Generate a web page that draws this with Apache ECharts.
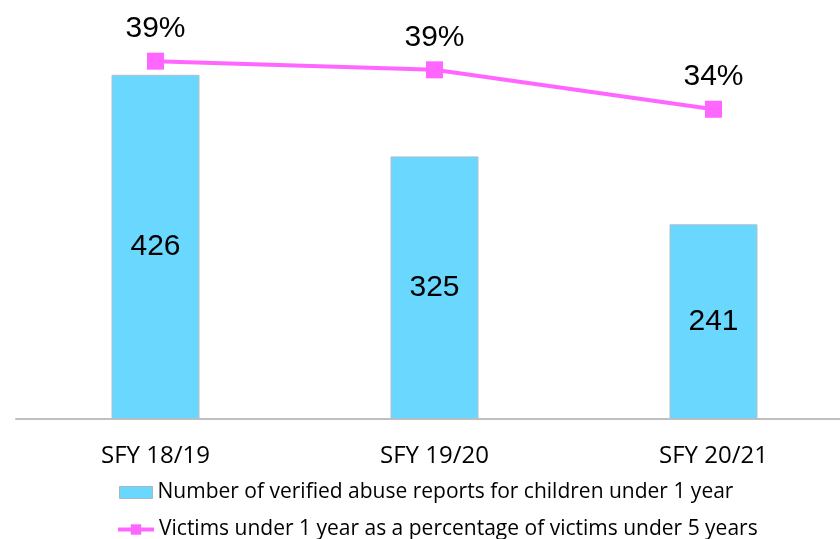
<!DOCTYPE html>
<html><head><meta charset="utf-8">
<script src="https://cdn.jsdelivr.net/npm/echarts@6/dist/echarts.min.js"></script>
<style>html,body{margin:0;padding:0;background:#fff;overflow:hidden}#c{width:860px;height:539px}</style>
</head><body><div id="c"></div>
<script>
var categories = ['SFY 18/19', 'SFY 19/20', 'SFY 20/21'];
var reports = [426, 325, 241];
var percentages = [0.394, 0.385, 0.344];
var barName = 'Number of verified abuse reports for children under 1 year';
var lineName = 'Victims under 1 year as a percentage of victims under 5 years';

var labelFont = '"Open Sans"';
var chart = echarts.init(document.getElementById('c'));
var legendText = { fontFamily: labelFont, fontSize: 21, color: '#000' };
chart.setOption({
  animation: false,
  backgroundColor: '#ffffff',
  grid: { left: 16, top: 15, width: 837, bottom: 120, containLabel: false },
  legend: [
    { left: 114, top: 477, itemWidth: 33, itemHeight: 12, itemGap: 4, textStyle: legendText,
      itemStyle: { borderColor: '#a8b8c0', borderWidth: 1 },
      data: [{ name: barName, icon: 'rect' }] },
    { left: 111, top: 514, itemWidth: 36, itemHeight: 13, itemGap: 4, textStyle: legendText,
      lineStyle: { width: 4 },
      data: [{ name: lineName }] }
  ],
  xAxis: {
    type: 'category', data: categories,
    axisLine: { lineStyle: { color: '#bfbfbf', width: 2 } },
    axisTick: { show: false },
    axisLabel: { color: '#000', fontFamily: labelFont, fontSize: 24, margin: 25 }
  },
  yAxis: [
    { type: 'value', min: 0, max: 500, show: false, splitLine: { show: false } },
    { type: 'value', min: 0.022, max: 0.442, show: false, splitLine: { show: false } }
  ],
  series: [
    {
      name: barName, type: 'bar', data: reports, barWidth: 88,
      itemStyle: { color: '#6AD7FE', borderColor: '#b0c0c8', borderWidth: 1 },
      label: { show: true, position: 'inside', color: '#000', fontFamily: 'Liberation Sans', fontSize: 30 }
    },
    {
      name: lineName, type: 'line', yAxisIndex: 1, data: percentages,
      symbol: 'rect', symbolSize: 17,
      lineStyle: { color: '#FF66FF', width: 4 },
      itemStyle: { color: '#FF66FF' },
      label: {
        show: true, position: 'top', distance: 9, color: '#000',
        fontFamily: 'Liberation Sans', fontSize: 30,
        formatter: function (p) { return Math.round(p.value * 100) + '%'; }
      }
    }
  ]
});
</script>
</body></html>
